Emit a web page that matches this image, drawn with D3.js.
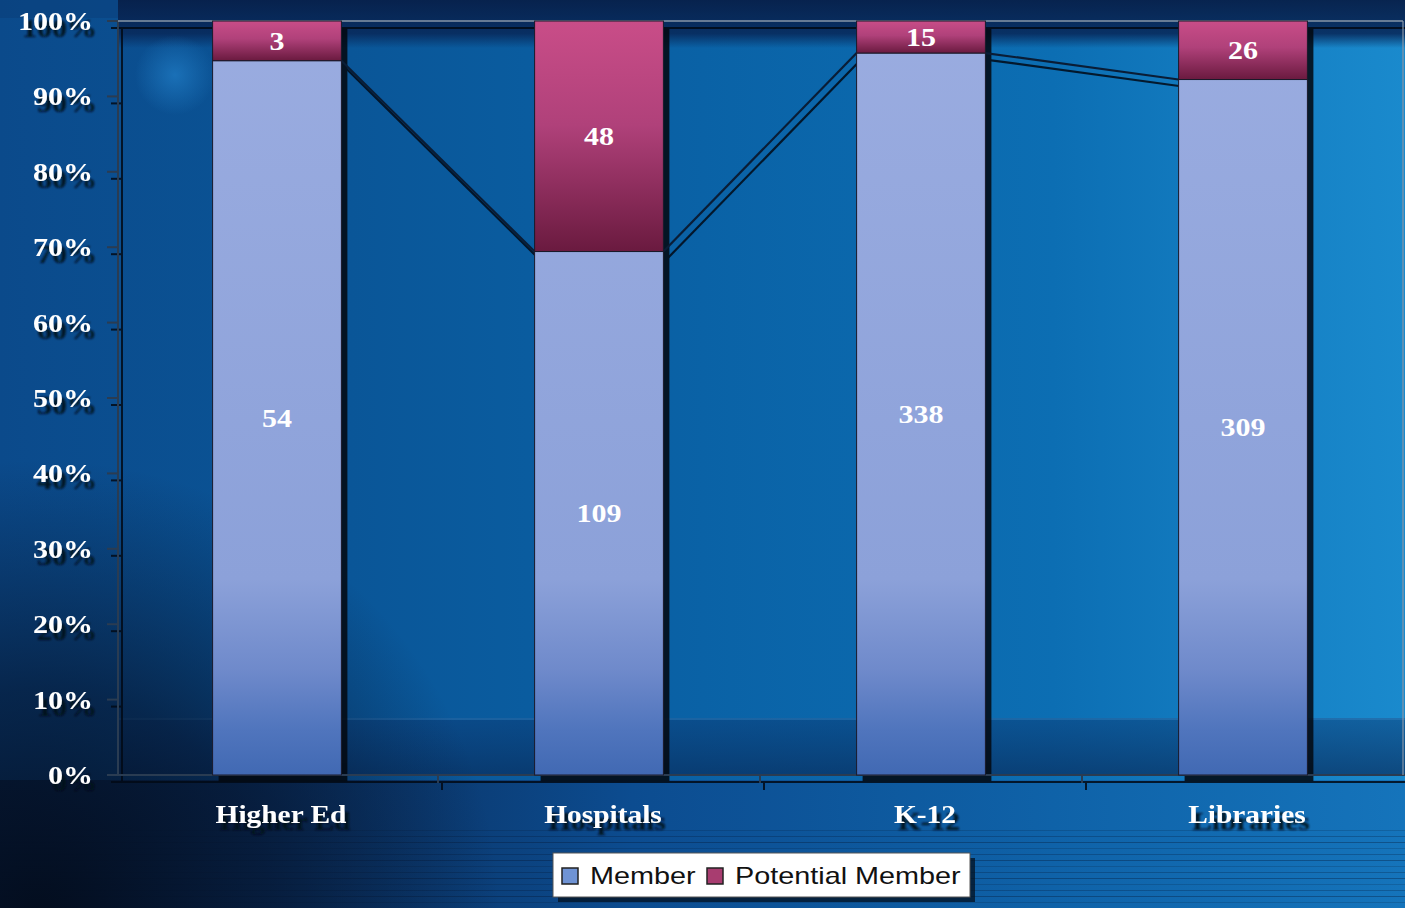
<!DOCTYPE html>
<html>
<head>
<meta charset="utf-8">
<script src="https://cdn.jsdelivr.net/npm/d3@7"></script>
<style>
  html, body { margin: 0; padding: 0; background: #0b4a8a; }
  svg { display: block; }
</style>
</head>
<body>
<svg id="chart" width="1405" height="908"></svg>
<script>
// Membership by sector, shown as 100% stacked columns
const categories = ["Higher Ed", "Hospitals", "K-12", "Libraries"];
const members = [54, 109, 338, 309];
const potentialMembers = [3, 48, 15, 26];
const seriesNames = ["Member", "Potential Member"];
const yTicks = [0, 0.1, 0.2, 0.3, 0.4, 0.5, 0.6, 0.7, 0.8, 0.9, 1];

const W = 1405, H = 908;
const svg = d3.select("#chart");
const defs = svg.append("defs");

const rows = categories.map((c, i) => ({ category: c, member: members[i], potential: potentialMembers[i] }));
const stacked = d3.stack().keys(["member", "potential"]).offset(d3.stackOffsetExpand)(rows);

const x = d3.scaleBand().domain(categories).range([116, 1404]).paddingInner(0.6).paddingOuter(0.3);
const y = d3.scaleLinear().domain([0, 1]).range([775, 21]);
const bw = x.bandwidth();
const [plotL, plotR] = [118, 1403];
const [plotT, plotB] = [y(1), y(0)];

// ---------- gradients & filters ----------
function linGrad(id, attrs, stops) {
  const g = defs.append("linearGradient").attr("id", id);
  Object.entries(attrs).forEach(([k, v]) => g.attr(k, v));
  stops.forEach(([o, c, op]) => g.append("stop").attr("offset", o).attr("stop-color", c).attr("stop-opacity", op == null ? 1 : op));
}
linGrad("bgH", { x1: 0, x2: 1, y1: 0, y2: 0 }, [
  [0, "#0b4a8b"], [0.25, "#0a5698"], [0.5, "#0a62a6"], [0.75, "#0c6eb3"], [0.9, "#1580c4"], [1, "#1a8acd"]
]);
linGrad("topBand", { x1: 0, x2: 0, y1: 0, y2: 1 }, [
  [0, "#071f49", 0.95], [0.7, "#082a5c", 0.9], [1, "#082a5c", 0]
]);
linGrad("bottomStrip", { x1: 0, x2: 1, y1: 0, y2: 0 }, [
  [0, "#071b38"], [0.2, "#0a2e5c"], [0.45, "#0c4c90"], [0.75, "#0f62a8"], [1, "#1574bb"]
]);
linGrad("plotBottom", { x1: 0, x2: 0, y1: 0, y2: 1 }, [
  [0, "#0a3a74", 0.5], [1, "#082c5c", 0.7]
]);
linGrad("memberFill", { gradientUnits: "userSpaceOnUse", x1: 0, x2: 0, y1: plotT, y2: plotB }, [
  [0, "#9aace0"], [0.74, "#8ca1d9"], [0.86, "#6f8acb"], [0.94, "#5075bd"], [1, "#4169b3"]
]);
linGrad("potentialFill", { x1: 0, x2: 0, y1: 0, y2: 1 }, [
  [0, "#c94d88"], [0.45, "#b0417a"], [1, "#6a1a3f"]
]);
const rg = defs.append("radialGradient").attr("id", "darkCorner")
  .attr("gradientUnits", "userSpaceOnUse").attr("cx", 40).attr("cy", 920).attr("r", 460);
[[0, "#030c1c", 0.95], [0.5, "#051631", 0.7], [1, "#061a38", 0]].forEach(([o, c, op]) =>
  rg.append("stop").attr("offset", o).attr("stop-color", c).attr("stop-opacity", op));
const rg2 = defs.append("radialGradient").attr("id", "glow")
  .attr("gradientUnits", "userSpaceOnUse").attr("cx", 175).attr("cy", 75).attr("r", 40);
[[0, "#1e78c0", 0.8], [1, "#1e78c0", 0]].forEach(([o, c, op]) =>
  rg2.append("stop").attr("offset", o).attr("stop-color", c).attr("stop-opacity", op));

defs.append("filter").attr("id", "textShadow")
  .attr("x", "-20%").attr("y", "-30%").attr("width", "140%").attr("height", "180%")
  .append("feDropShadow").attr("dx", 4).attr("dy", 7).attr("stdDeviation", 0.9)
  .attr("flood-color", "#020a16").attr("flood-opacity", 0.9);

// ---------- background ----------
const bg = svg.append("g");
bg.append("rect").attr("width", W).attr("height", H).attr("fill", "url(#bgH)");
bg.append("rect").attr("x", plotL).attr("y", 0).attr("width", W - plotL).attr("height", 48).attr("fill", "url(#topBand)");
bg.append("rect").attr("x", 0).attr("y", 0).attr("width", plotL).attr("height", 18).attr("fill", "#0a3a74").attr("opacity", 0.4);
bg.append("rect").attr("x", plotL).attr("y", 718).attr("width", W - plotL).attr("height", plotB - 718).attr("fill", "url(#plotBottom)");
bg.append("rect").attr("x", plotL).attr("y", 718).attr("width", W - plotL).attr("height", 2).attr("fill", "#3c8ccc").attr("opacity", 0.35);
bg.append("rect").attr("x", 0).attr("y", 780).attr("width", W).attr("height", H - 780).attr("fill", "url(#bottomStrip)");
// horizontal streaks in the lower strip
const streakYs = d3.range(830, 908, 6);
bg.selectAll(".streak").data(streakYs).join("rect")
  .attr("x", 0).attr("y", d => d).attr("width", W).attr("height", 1)
  .attr("fill", "#05152e").attr("opacity", (d, i) => 0.18 + (i % 3) * 0.08);
bg.append("rect").attr("width", W).attr("height", H).attr("fill", "url(#darkCorner)");
bg.append("circle").attr("cx", 175).attr("cy", 75).attr("r", 40).attr("fill", "url(#glow)");

// ---------- helpers ----------
function stretch(sel, f) {
  sel.each(function () {
    const w = this.getComputedTextLength();
    d3.select(this).attr("textLength", w * f).attr("lengthAdjust", "spacingAndGlyphs");
  });
}
const serif = "'Liberation Serif', 'Times New Roman', serif";
const sans = "'Liberation Sans', Arial, sans-serif";

const seriesLine = d3.line().x(d => d[0]).y(d => d[1]);
const linkData = d3.range(categories.length - 1).map(i => [
  [x(categories[i]) + bw, y(stacked[0][i][1])],
  [x(categories[i + 1]), y(stacked[0][i + 1][1])]
]);
const step = x.step();
const bounds = d3.range(1, categories.length).map(i => x(categories[i]) - (step - bw) / 2);

// frame, ticks and connector lines; drawn once as an offset shadow and once on top
function drawFrame(g, isShadow) {
  const lineCol = isShadow ? "#020a16" : "#2a3c52";
  const edgeCol = isShadow ? "#020a16" : "#8797a8";
  g.append("line").attr("x1", plotL).attr("x2", plotL).attr("y1", plotT).attr("y2", plotB)
    .attr("stroke", lineCol).attr("stroke-width", 2);
  g.append("line").attr("x1", plotL).attr("x2", W).attr("y1", plotB).attr("y2", plotB)
    .attr("stroke", lineCol).attr("stroke-width", 2);
  g.append("line").attr("x1", plotL).attr("x2", plotR).attr("y1", plotT).attr("y2", plotT)
    .attr("stroke", edgeCol).attr("stroke-width", isShadow ? 2 : 1.5);
  g.append("line").attr("x1", plotR).attr("x2", plotR).attr("y1", plotT).attr("y2", plotB)
    .attr("stroke", edgeCol).attr("stroke-width", isShadow ? 2 : 1.2);
  g.selectAll(null).data(yTicks).join("line")
    .attr("x1", plotL - 11).attr("x2", plotL).attr("y1", d => y(d)).attr("y2", d => y(d))
    .attr("stroke", lineCol).attr("stroke-width", 2);
  g.selectAll(null).data(bounds).join("line")
    .attr("x1", d => d).attr("x2", d => d).attr("y1", plotB).attr("y2", plotB + 8)
    .attr("stroke", lineCol).attr("stroke-width", 2);
  g.selectAll(null).data(linkData).join("path")
    .attr("d", seriesLine)
    .attr("fill", "none").attr("stroke", isShadow ? "#020a16" : "#0a1d36").attr("stroke-width", 2.2);
}

// drop shadow copy
const shadow = svg.append("g").attr("transform", "translate(4,7)").attr("opacity", 0.85);
drawFrame(shadow, true);
shadow.selectAll(".barShadow").data(rows).join("rect")
  .attr("x", d => x(d.category) + 2).attr("y", plotT)
  .attr("width", bw).attr("height", plotB - plotT)
  .attr("fill", "#03080f");

// main layer
const main = svg.append("g");
drawFrame(main, false);

// y axis labels via d3.axisLeft
const yAxis = main.append("g").attr("transform", `translate(${plotL},0)`)
  .call(d3.axisLeft(y).tickValues(yTicks).tickFormat(d3.format(".0%")).tickSize(11).tickPadding(14));
yAxis.select(".domain").remove();
yAxis.selectAll(".tick line").remove();
yAxis.selectAll(".tick text")
  .attr("fill", "#ffffff")
  .attr("font-family", serif).attr("font-weight", "bold").attr("font-size", 25)
  .attr("dy", "0.34em")
  .attr("filter", "url(#textShadow)")
  .call(stretch, 1.2);

// category labels
main.selectAll(".cat").data(categories).join("text")
  .attr("x", d => x(d) + bw / 2 + 4).attr("y", 823)
  .attr("text-anchor", "middle")
  .attr("fill", "#ffffff")
  .attr("font-family", serif).attr("font-weight", "bold").attr("font-size", 26)
  .attr("filter", "url(#textShadow)")
  .text(d => d)
  .call(stretch, 1.13);

const fills = ["url(#memberFill)", "url(#potentialFill)"];
main.selectAll(".series").data(stacked).join("g")
  .attr("fill", (d, i) => fills[i])
  .selectAll("rect").data(d => d).join("rect")
  .attr("x", d => x(d.data.category))
  .attr("y", d => y(d[1]))
  .attr("width", bw)
  .attr("height", d => y(d[0]) - y(d[1]))
  .attr("stroke", "#1a1a2a").attr("stroke-width", 1);

// value labels centred in each segment
main.selectAll(".valueGroup").data(stacked).join("g")
  .selectAll("text").data(d => d.map(s => ({ s, v: s.data[d.key] }))).join("text")
  .attr("x", d => x(d.s.data.category) + bw / 2)
  .attr("y", d => (y(d.s[0]) + y(d.s[1])) / 2)
  .attr("dy", "0.35em")
  .attr("text-anchor", "middle")
  .attr("fill", "#ffffff")
  .attr("font-family", serif).attr("font-weight", "bold").attr("font-size", 25)
  .text(d => d.v)
  .call(stretch, 1.2);

// ---------- legend ----------
const legend = svg.append("g");
legend.append("rect").attr("x", 558).attr("y", 858).attr("width", 417).attr("height", 44).attr("fill", "#03101f").attr("opacity", 0.75);
legend.append("rect").attr("x", 553).attr("y", 853).attr("width", 417).attr("height", 44)
  .attr("fill", "#ffffff").attr("stroke", "#555").attr("stroke-width", 1);
const swatchColors = ["#6f93d4", "#a83d70"];
const legendX = [562, 707];
const legendItems = legend.selectAll(".item").data(seriesNames).join("g")
  .attr("transform", (d, i) => `translate(${legendX[i]},868)`);
legendItems.append("rect").attr("width", 16).attr("height", 16)
  .attr("fill", (d, i) => swatchColors[i]).attr("stroke", "#222").attr("stroke-width", 1.5);
legendItems.append("text").attr("x", 28).attr("y", 16)
  .attr("font-family", sans).attr("font-size", 24).attr("fill", "#111")
  .text(d => d)
  .call(stretch, 1.2);
</script>
</body>
</html>
